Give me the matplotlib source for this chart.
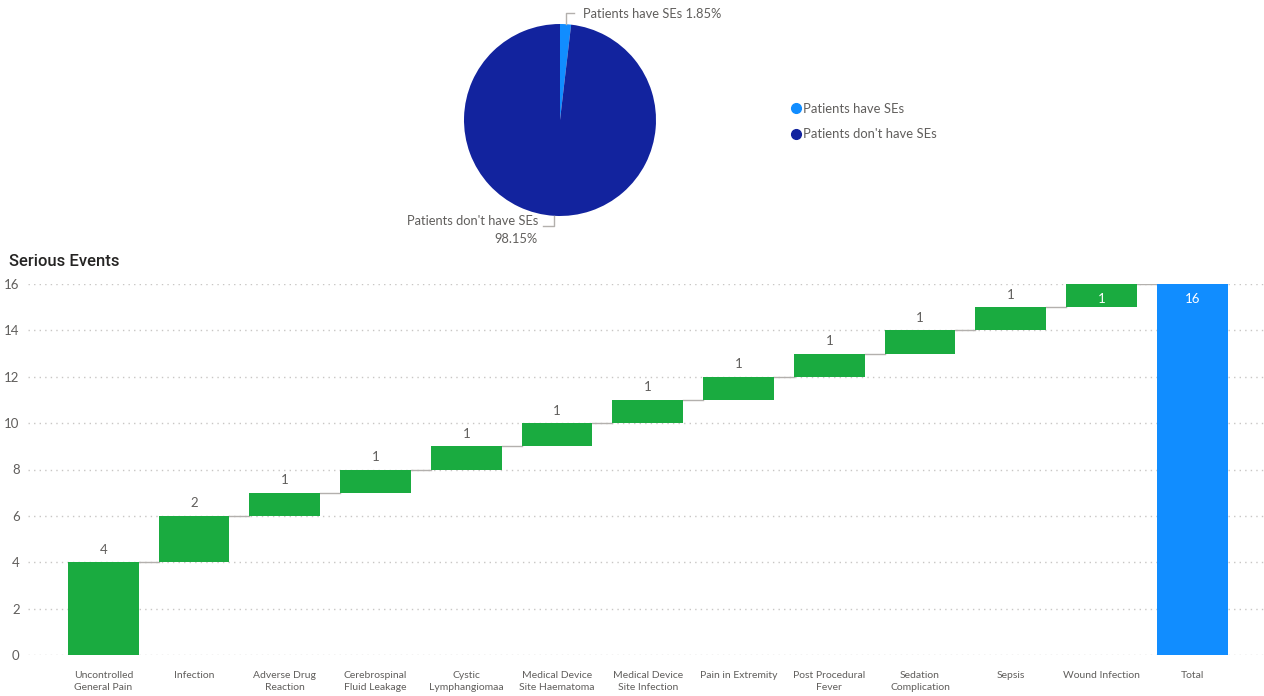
import numpy as np
import matplotlib.pyplot as plt
from matplotlib.lines import Line2D

# pie data
pie_labels = ["Patients have SEs", "Patients don't have SEs"]
pie_values = [1.85, 98.15]
pie_colors = ['#118DFF', '#12239E']

# waterfall data
events = ["Uncontrolled\nGeneral Pain", "Infection", "Adverse Drug\nReaction",
          "Cerebrospinal\nFluid Leakage", "Cystic\nLymphangiomaa",
          "Medical Device\nSite Haematoma", "Medical Device\nSite Infection",
          "Pain in Extremity", "Post Procedural\nFever", "Sedation\nComplication",
          "Sepsis", "Wound Infection"]
counts = [4, 2, 1, 1, 1, 1, 1, 1, 1, 1, 1, 1]
total_label = "Total"

plt.rcParams['font.family'] = ['Lato', 'DejaVu Sans']
gray = '#605E5C'
green = '#1AAB40'
blue = '#118DFF'

W, H = 1264, 696
fig = plt.figure(figsize=(W / 100, H / 100), dpi=100)

# ---- pie ----
cx, cy, r = 560, 120, 96
axp = fig.add_axes([(cx - r) / W, (H - cy - r) / H, 2 * r / W, 2 * r / H])
wedges, _ = axp.pie(pie_values, colors=pie_colors, startangle=90,
                    counterclock=False, radius=1.0)
axp.set_xlim(-1, 1)
axp.set_ylim(-1, 1)

fracs = np.array(pie_values) / sum(pie_values)
starts = 90 - 360 * np.concatenate([[0], np.cumsum(fracs)[:-1]])
mids = np.deg2rad(starts - 360 * fracs / 2)
lc = '#B3B0AD'
# top label
x0, y0 = np.cos(mids[0]), np.sin(mids[0])
axp.plot([x0, x0, x0 + 0.09], [y0, 1.11, 1.11], color=lc, lw=1, clip_on=False)
axp.text(x0 + 0.18, 1.10, f"{pie_labels[0]} {pie_values[0]:.2f}%", color=gray,
         fontsize=9.3, ha='left', va='center')
# bottom label
x1, y1 = np.cos(mids[1]), np.sin(mids[1])
axp.plot([x1, x1, x1 - 0.12], [y1, -1.10, -1.10], color=lc, lw=1, clip_on=False)
axp.text(x1 - 0.17, -0.99, f"{pie_labels[1]}\n{pie_values[1]:.2f}%", color=gray,
         fontsize=9.3, ha='right', va='top', multialignment='right', linespacing=1.6)

handles = [Line2D([], [], marker='o', ls='', color=c, markersize=7) for c in pie_colors]
fig.legend(handles, pie_labels, loc='upper left', bbox_to_anchor=(776 / W, 1 - 91 / H),
           frameon=False, fontsize=9.4, handletextpad=0.0, labelspacing=1.05,
           labelcolor=gray, handlelength=1.2)

# ---- waterfall ----
ax = fig.add_axes([28 / W, (H - 655) / H, 1 - 28 / W, (655 - 284) / H])
n = len(counts)
x = np.arange(n + 1)
cum = np.cumsum(counts)
bottoms = np.concatenate([[0], cum[:-1]])
total = cum[-1]
bw = 0.78

ax.bar(x[:n], counts, bottom=bottoms, width=bw, color=green, zorder=3)
ax.bar(x[n], total, width=bw, color=blue, zorder=3)

ymax = 16
ax.set_ylim(0, ymax)
ax.set_xlim(-0.83, n + 0.79)

# connectors
levels = list(cum)
for i in range(n):
    ax.plot([x[i] + bw / 2, x[i + 1] - bw / 2], [levels[i], levels[i]],
            color=lc, lw=1, zorder=2)

# value labels
tops = list(cum) + [total]
vals = counts + [total]
for i, (t, v) in enumerate(zip(tops, vals)):
    if t >= ymax:
        ax.annotate(str(v), (x[i], t), xytext=(0, -11), textcoords='offset points',
                    ha='center', va='center', color='white', fontsize=9.5, zorder=4)
    else:
        ax.annotate(str(v), (x[i], t), xytext=(0, 9), textcoords='offset points',
                    ha='center', va='center', color=gray, fontsize=9.5, zorder=4)

ax.set_xticks(x)
ax.set_xticklabels(events + [total_label], fontsize=7.5, color=gray, linespacing=1.45)
ax.set_yticks(np.arange(0, ymax + 1, 2))
ax.tick_params(axis='both', length=0, labelsize=9.5, colors=gray)
ax.tick_params(axis='x', pad=11.5, labelsize=7.5)
ax.tick_params(axis='y', pad=6)
ax.grid(axis='y', color='#C8C6C4', ls=(0, (1, 3)), lw=1, zorder=0)
for s in ax.spines.values():
    s.set_visible(False)

fig.text(9 / W, 1 - 262 / H, "Serious Events", fontsize=12, color='#252423',
         ha='left', va='center', family=['Roboto', 'DejaVu Sans'], weight='medium')

fig.savefig('out.png', dpi=100)
